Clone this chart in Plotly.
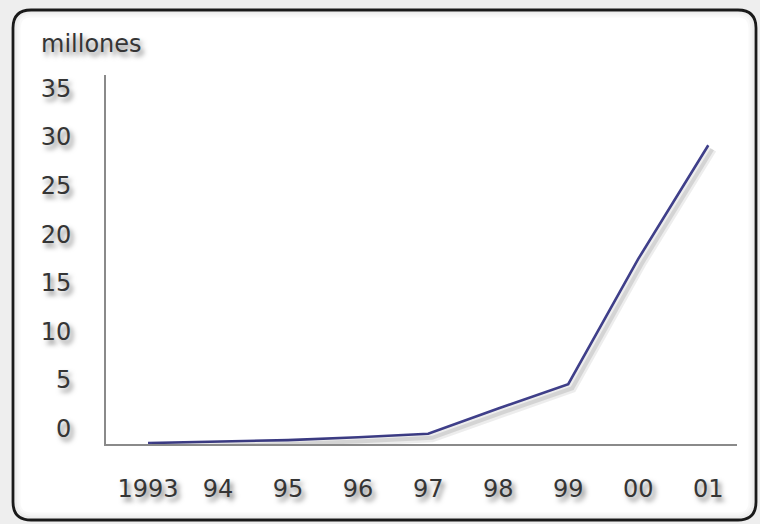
import plotly.graph_objects as go

years = ["1993", "94", "95", "96", "97", "98", "99", "00", "01"]
millones = [0.05, 0.2, 0.35, 0.65, 1.0, 3.6, 6.1, 19.0, 30.7]
y_ticks = [0, 5, 10, 15, 20, 25, 30, 35]
y_label = "millones"

W, H = 760, 524
L, R, T, B = 106, 23, 75, 80
pw, ph = W - L - R, H - T - B

def px(x):
    return (x - L) / pw

def py(y):
    return (H - B - y) / ph

def rrect(x0p, y0p, x1p, y1p, r):
    x0, x1 = px(x0p), px(x1p)
    yt, yb = py(y0p), py(y1p)
    rx, ry = r / pw, r / ph
    return (f"M {x0+rx},{yt} L {x1-rx},{yt} Q {x1},{yt} {x1},{yt-ry} "
            f"L {x1},{yb+ry} Q {x1},{yb} {x1-rx},{yb} L {x0+rx},{yb} "
            f"Q {x0},{yb} {x0},{yb+ry} L {x0},{yt-ry} Q {x0},{yt} {x0+rx},{yt} Z")

xr = [-0.6, 8.41]
yr = [-0.05, 37.93]
ppx = pw / (xr[1] - xr[0])
ppy = ph / (yr[1] - yr[0])
dx, dy = 4, 4

fig = go.Figure()
# soft shadow of the line
fig.add_trace(go.Scatter(x=years, y=millones, mode="lines", xaxis="x2", yaxis="y2",
                         line=dict(color="rgba(0,0,0,0.07)", width=9), hoverinfo="skip",
                         showlegend=False))
fig.add_trace(go.Scatter(x=years, y=millones, mode="lines", xaxis="x2", yaxis="y2",
                         line=dict(color="rgba(0,0,0,0.10)", width=4), hoverinfo="skip",
                         showlegend=False))
fig.add_trace(go.Scatter(x=years, y=millones, mode="lines",
                         line=dict(color="#3f3f8a", width=2.6), showlegend=False))

shapes = [dict(type="path", xref="paper", yref="paper", layer="below",
               path=rrect(13, 10, 756, 520, 18), fillcolor="white",
               line=dict(color="#1a1a1a", width=2.8))]
for i, a in enumerate([0.07, 0.045, 0.025]):
    k = 2.5 + 2 * i
    shapes.append(dict(type="path", xref="paper", yref="paper", layer="below",
                       path=rrect(13 + k, 10 + k, 756 - k, 520 - k, max(18 - k, 4)),
                       line=dict(color=f"rgba(0,0,0,{a})", width=2.2)))

font = dict(family="DejaVu Sans", size=24, color="#353535",
            shadow="3px 4px 5px rgba(0,0,0,0.5)")

fig.update_layout(
    width=W, height=H,
    margin=dict(l=L, r=R, t=T, b=B, pad=0),
    paper_bgcolor="#eeeeee", plot_bgcolor="rgba(0,0,0,0)",
    font=font,
    shapes=shapes,
    xaxis=dict(type="category", range=xr, showgrid=False, zeroline=False,
               showline=True, linecolor="#8a8a8a", linewidth=2, ticks="",
               ticklabelstandoff=22, tickfont=font),
    yaxis=dict(range=yr, tickvals=y_ticks, showgrid=False, zeroline=False,
               showline=True, linecolor="#8a8a8a", linewidth=2, ticks="",
               ticklabelstandoff=28, ticklabelshift=-15, tickfont=font),
    xaxis2=dict(type="category", overlaying="x", matches=None,
                range=[xr[0] - dx / ppx, xr[1] - dx / ppx], visible=False),
    yaxis2=dict(overlaying="y", range=[yr[0] + dy / ppy, yr[1] + dy / ppy], visible=False),
    annotations=[dict(text=y_label, xref="paper", yref="paper", x=px(39), y=py(44),
                      xanchor="left", yanchor="middle", showarrow=False, font=font)],
)

fig.write_html("out.html")
